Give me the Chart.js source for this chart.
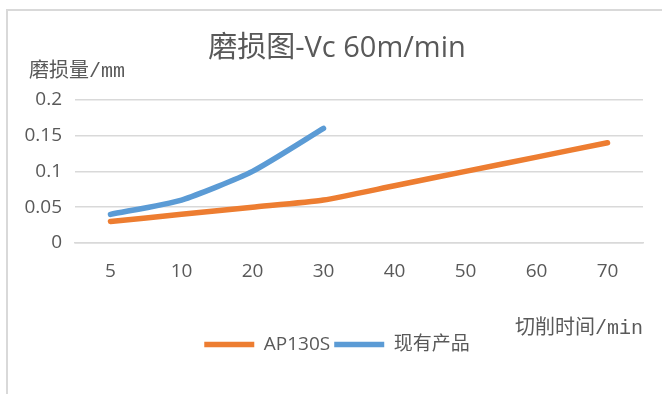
<!DOCTYPE html>
<html>
<head>
<meta charset="utf-8">
<script src="https://cdn.jsdelivr.net/npm/chart.js@4"></script>
<style>
    html, body { margin: 0; padding: 0; background: #fff; }
    #frame {
        position: absolute; left: 6px; top: 9px; width: 680px; height: 400px;
        border-left: 2px solid #d9d9d9; border-top: 2px solid #d9d9d9;
    }
    #wrap { position: absolute; left: 0; top: 0; width: 662px; height: 394px; }
</style>
</head>
<body>
<div id="frame"></div>
<div id="wrap"><canvas id="wearChart"></canvas></div>
<script>
// ── Data ─────────────────────────────────────────────────────
const cutTimes = ["5", "10", "20", "30", "40", "50", "60", "70"];
const ap130s = [0.03, 0.04, 0.05, 0.06, 0.08, 0.10, 0.12, 0.14];
const existing = [0.04, 0.06, 0.10, 0.16, null, null, null, null];
const yTickLabels = ["0", "0.05", "0.1", "0.15", "0.2"];

const TEXT = "#595959";
const SANS = "'Open Sans', 'Noto Sans CJK SC', sans-serif";
const MONO = "'Liberation Mono', 'Noto Sans CJK SC', monospace";
const FRAME_LEFT = 31; // title + legend are centred on the outer frame, not the plot

// y label sits horizontally above the axis
const yLabelPlugin = {
    id: "yLabel",
    afterLayout(chart) {
        // nudge title and legend so they centre like the original
        if (chart.titleBlock) chart.titleBlock.left += FRAME_LEFT;
        if (chart.legend) chart.legend.left += FRAME_LEFT;
    },
    afterDraw(chart) {
        const { ctx } = chart;
        ctx.save();
        ctx.font = `20px ${MONO}`;
        ctx.fillStyle = TEXT;
        ctx.textBaseline = "middle";
        ctx.textAlign = "left";
        ctx.fillText("磨损量/mm", 29, 72);
        ctx.restore();
    }
};

const ctx = document.getElementById("wearChart").getContext("2d");
new Chart(ctx, {
    type: "line",
    data: {
        labels: cutTimes,
        datasets: [
            {
                label: "AP130S",
                data: ap130s,
                borderColor: "#ED7D31",
                backgroundColor: "#ED7D31",
                borderWidth: 5.5,
                borderCapStyle: "round",
                tension: 0.2,
                pointRadius: 0,
            },
            {
                label: "现有产品",
                data: existing,
                borderColor: "#5B9BD5",
                backgroundColor: "#5B9BD5",
                borderWidth: 5.5,
                borderCapStyle: "round",
                tension: 0.2,
                pointRadius: 0,
            }
        ]
    },
    options: {
        responsive: true,
        maintainAspectRatio: false,
        animation: false,
        layout: { padding: { left: 0, right: 19, top: 0, bottom: 30 } },
        plugins: {
            title: {
                display: true,
                text: "磨损图-Vc 60m/min",
                color: TEXT,
                font: { family: SANS, size: 29, weight: "normal" },
                padding: { top: 31, bottom: 34 }
            },
            legend: {
                position: "bottom",
                labels: {
                    color: TEXT,
                    font: { family: SANS, size: 19 },
                    usePointStyle: true,
                    pointStyle: "line",
                    pointStyleWidth: 50,
                    padding: 4
                }
            },
            tooltip: { enabled: false }
        },
        scales: {
            x: {
                offset: true,
                grid: { display: false, drawTicks: false },
                border: { color: "#d9d9d9", width: 1.5 },
                ticks: { color: TEXT, font: { family: SANS, size: 19 }, padding: 17, maxRotation: 0 },
                title: {
                    display: true,
                    text: "切削时间/min",
                    align: "end",
                    color: TEXT,
                    font: { family: MONO, size: 20 },
                    padding: { top: 0, bottom: -10 }
                },
                afterFit: s => { s.height = 88; }
            },
            y: {
                min: 0,
                max: 0.2,
                grid: { color: "#d9d9d9", lineWidth: 1.5, drawTicks: false },
                border: { display: false },
                ticks: {
                    stepSize: 0.05,
                    color: TEXT,
                    font: { family: SANS, size: 19 },
                    padding: 13,
                    callback: (v, i) => yTickLabels[i]
                },
                afterFit: s => { s.width = 75; }
            }
        }
    },
    plugins: [yLabelPlugin]
});
</script>
</body>
</html>
